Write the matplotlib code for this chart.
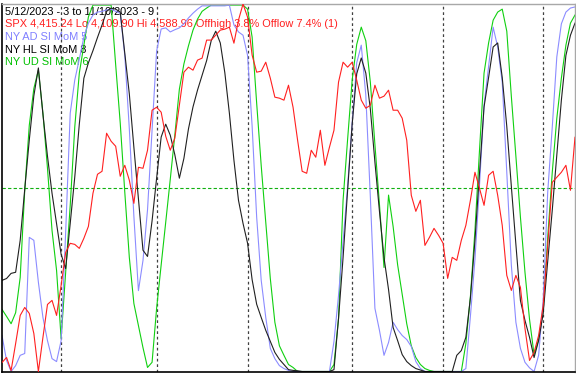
import numpy as np
import pandas as pd
import matplotlib
matplotlib.use("Agg")
import matplotlib.pyplot as plt

# trading days 5/12/2023 .. 11/10/2023
holidays = ["2023-05-29", "2023-06-19", "2023-07-04", "2023-09-04"]
dates = pd.bdate_range("2023-05-12", "2023-11-10", freq="C", holidays=holidays)

spx_lo = 4109.90
spx_hi = 4588.96

spx = [4121.6, 4128.2, 4111.2, 4146.4, 4183.0, 4193.4, 4185.6, 4159.5, 4109.9, 4154.3,
       4197.3, 4202.6, 4183.0, 4222.1, 4265.2, 4277.0, 4275.6, 4270.4, 4283.5, 4299.1,
       4342.2, 4367.0, 4370.9, 4420.5, 4410.0, 4403.5, 4364.4, 4378.7, 4359.2, 4329.1,
       4376.1, 4374.8, 4398.3, 4450.5, 4454.4, 4447.9, 4416.6, 4398.3, 4414.0, 4457.0,
       4500.1, 4506.6, 4502.7, 4515.8, 4518.4, 4541.9, 4541.9, 4548.4, 4554.9, 4556.2,
       4558.8, 4537.9, 4567.9, 4588.96, 4571.9, 4522.3, 4500.1, 4501.4, 4513.1, 4492.3,
       4467.5, 4466.2, 4463.6, 4483.1, 4454.4, 4411.4, 4370.9, 4368.3, 4398.3, 4389.2,
       4424.4, 4378.7, 4402.2, 4424.4, 4487.1, 4513.1, 4506.6, 4513.1, 4489.7, 4463.6,
       4453.1, 4457.0, 4483.1, 4466.2, 4468.8, 4476.6, 4450.5, 4450.5, 4440.1, 4411.4,
       4339.6, 4318.7, 4333.1, 4274.3, 4284.8, 4296.5, 4287.4, 4277.0, 4231.3, 4258.7,
       4254.8, 4280.9, 4300.4, 4333.1, 4369.6, 4348.7, 4326.5, 4365.7, 4370.9, 4339.6,
       4300.4, 4235.2, 4215.6, 4235.2, 4219.5, 4166.0, 4124.3, 4134.7, 4156.9, 4196.0,
       4274.3, 4356.5, 4363.1, 4369.6, 4378.7, 4346.1, 4415.24]

ny_ad = [9.8, 3, 0, 1.6, 4.4, 4.9, 36.5, 35.7, 24.3, 14.7,
         8.4, 3.5, 2.7, 8.4, 37.9, 70.3, 79.3, 85, 91, 94.8,
         97, 97.8, 98, 98.4, 98.6, 98, 97.5, 86, 66, 42.2,
         22, 30.2, 44, 65.7, 87.2, 93.2, 93.5, 92.4, 93, 93.5,
         94.6, 96.2, 97.5, 98.6, 99.5, 99.5, 99.5, 99.5, 99.5, 99.5,
         99.7, 94.3, 92.4, 91.5, 86, 66.8, 42, 24.8, 14.7, 6.3,
         3.5, 1.6, 0.8, 0.3, 0, 0, 0, 0, 0, 0,
         0, 0, 0, 8.2, 20.7, 35.4, 50.4, 67.6, 84, 88.8,
         75.2, 47.4, 17.2, 11.2, 4.4, 7.9, 13.4, 11.4, 9.8, 8.7,
         6.8, 2.7, 0.8, 0, 0, 0, 0, 0, 0, 0,
         0, 0, 0.8, 15, 30.5, 50.7, 72.5, 83, 93.7, 88.3,
         78.7, 54.2, 29, 13.4, 6.3, 2.5, 1, 0, 4.4, 19.3,
         48.8, 66.5, 85.6, 94.6, 97.8, 98.9, 99.2]

ny_hl = [24.8, 25.3, 26.7, 27, 35.7, 49.6, 63, 75, 82.6, 70,
         58.6, 48.5, 40.2, 31.9, 28, 40.3, 52.9, 67.3, 79.8, 84,
         87.3, 90.9, 94.3, 98, 98.9, 98.6, 97.8, 86.6, 75.5, 61,
         47, 33, 31.3, 41, 52.6, 63.8, 67.3, 64.3, 59, 52.6,
         58, 66, 72, 76.6, 80.6, 84.6, 90, 92.6, 89.4, 81.3,
         70.3, 57.5, 46.6, 40.3, 34.9, 25, 18.3, 14.7, 11.2, 8.2,
         5.2, 3.3, 1.9, 0.5, 0.3, 0.2, 0, 0, 0, 0,
         0, 0, 0, 0.5, 14.4, 31, 49.3, 67.3, 81, 85.3,
         81.2, 71.4, 57, 43.6, 31, 22.3, 12, 8.4, 4.6, 2.7,
         1.6, 0.8, 0.4, 0, 0, 0, 0, 0, 0, 0,
         4.4, 5.7, 9.3, 20, 35.7, 54, 72, 80, 88.3, 89.4,
         80, 66.7, 50.4, 34.6, 19.3, 13.9, 9.3, 3.8, 8.4, 15.8,
         30, 43.9, 58.9, 73.8, 86, 91.5, 94.8]

ny_ud = [16.9, 15, 13, 16, 25.6, 49.3, 67, 77, 82, 70.3,
         55.3, 38.4, 27.5, 9, 27, 45.2, 66.5, 81.2, 88.8, 96.5,
         99.7, 99.7, 99.7, 99.7, 99.7, 83.4, 67.6, 48.8, 31, 18.5,
         12.5, 6.5, 1.1, 2.5, 17.2, 29, 40.6, 52.3, 64.3, 76.8,
         83.7, 88.6, 92.9, 95.9, 98, 98.9, 99.7, 99.7, 99.7, 99.7,
         99.7, 99.7, 99.7, 99.7, 98.6, 91, 73, 56, 40.6, 25.3,
         13.4, 7, 4.4, 1.9, 1.1, 0, 0, 0, 0, 0,
         0, 0, 0, 1.9, 14.4, 46.6, 63.2, 79.3, 89, 93.7,
         90, 78.7, 61.8, 45.5, 28.3, 48, 39.5, 29, 21, 13,
         7, 3.8, 1.9, 0.8, 0.3, 0, 0, 0, 0, 0,
         0, 0, 7.6, 20.4, 38.4, 60.2, 81.2, 89.4, 95.6, 97.8,
         98.6, 92.6, 74.9, 58.6, 42, 27, 14.2, 4.6, 8.7, 16.6,
         36.5, 54.2, 68.9, 79.8, 88.8, 94.8, 97]

x = np.arange(len(dates))
month_starts = [i for i in range(1, len(dates)) if dates[i].month != dates[i - 1].month]

W, H = 576, 374
fig = plt.figure(figsize=(W / 100, H / 100), dpi=100)
ax = fig.add_axes([2 / W, 2.5 / H, 573 / W, 367.5 / H])
ax.set_xlim(0, len(dates) - 1)
ax.set_ylim(0, 100)
ax.set_xticks([])
ax.set_yticks([])
for side in ["left", "bottom"]:
    ax.spines[side].set_color("black")
    ax.spines[side].set_linewidth(1.2)
for side in ["top", "right"]:
    ax.spines[side].set_color("#a8a8a8")
    ax.spines[side].set_linewidth(1.0)

for m in month_starts:
    ax.axvline(m, color="#404040", lw=0.9, ls=(0, (2.2, 2.2)), zorder=1)
ax.axhline(50, color="#10b010", lw=0.8, ls=(0, (3, 2)), zorder=1)

ax.plot(x, ny_ud, color="#10d010", lw=0.8, zorder=2)
ax.plot(x, ny_ad, color="#8c8cff", lw=0.8, zorder=2)
ax.plot(x, ny_hl, color="#202020", lw=0.8, zorder=2)

ax2 = ax.twinx()
ax2.set_ylim(spx_lo, spx_hi)
ax2.set_yticks([])
ax2.axis("off")
ax2.plot(x, spx, color="#ff2020", lw=0.8, zorder=3)

last = spx[-1]
offhigh = (spx_hi - last) / spx_hi * 100
offlow = (last - spx_lo) / spx_lo * 100
lines = [
    ("%s - 3 to %s - 9" % (f"{dates[0].month}/{dates[0].day}/{dates[0].year}",
                           f"{dates[-1].month}/{dates[-1].day}/{dates[-1].year}"), "black"),
    ("SPX {:,.2f} Lo {:,.2f} Hi {:,.2f} Offhigh {:.1f}% Offlow {:.1f}% (1)".format(
        last, spx_lo, spx_hi, offhigh, offlow), "#ff2020"),
    ("NY AD SI MoM 5", "#8080ff"),
    ("NY HL SI MoM 8", "black"),
    ("NY UD SI MoM 6", "#00c000"),
]
for k, (txt, col) in enumerate(lines):
    py = 11.7 + 12.65 * k
    ax.text(5 / W, 1 - py / H, txt, transform=fig.transFigure, color=col,
            fontsize=7.9, family="Liberation Sans", va="center", ha="left", zorder=0.5)

fig.savefig("out.png", dpi=100)
